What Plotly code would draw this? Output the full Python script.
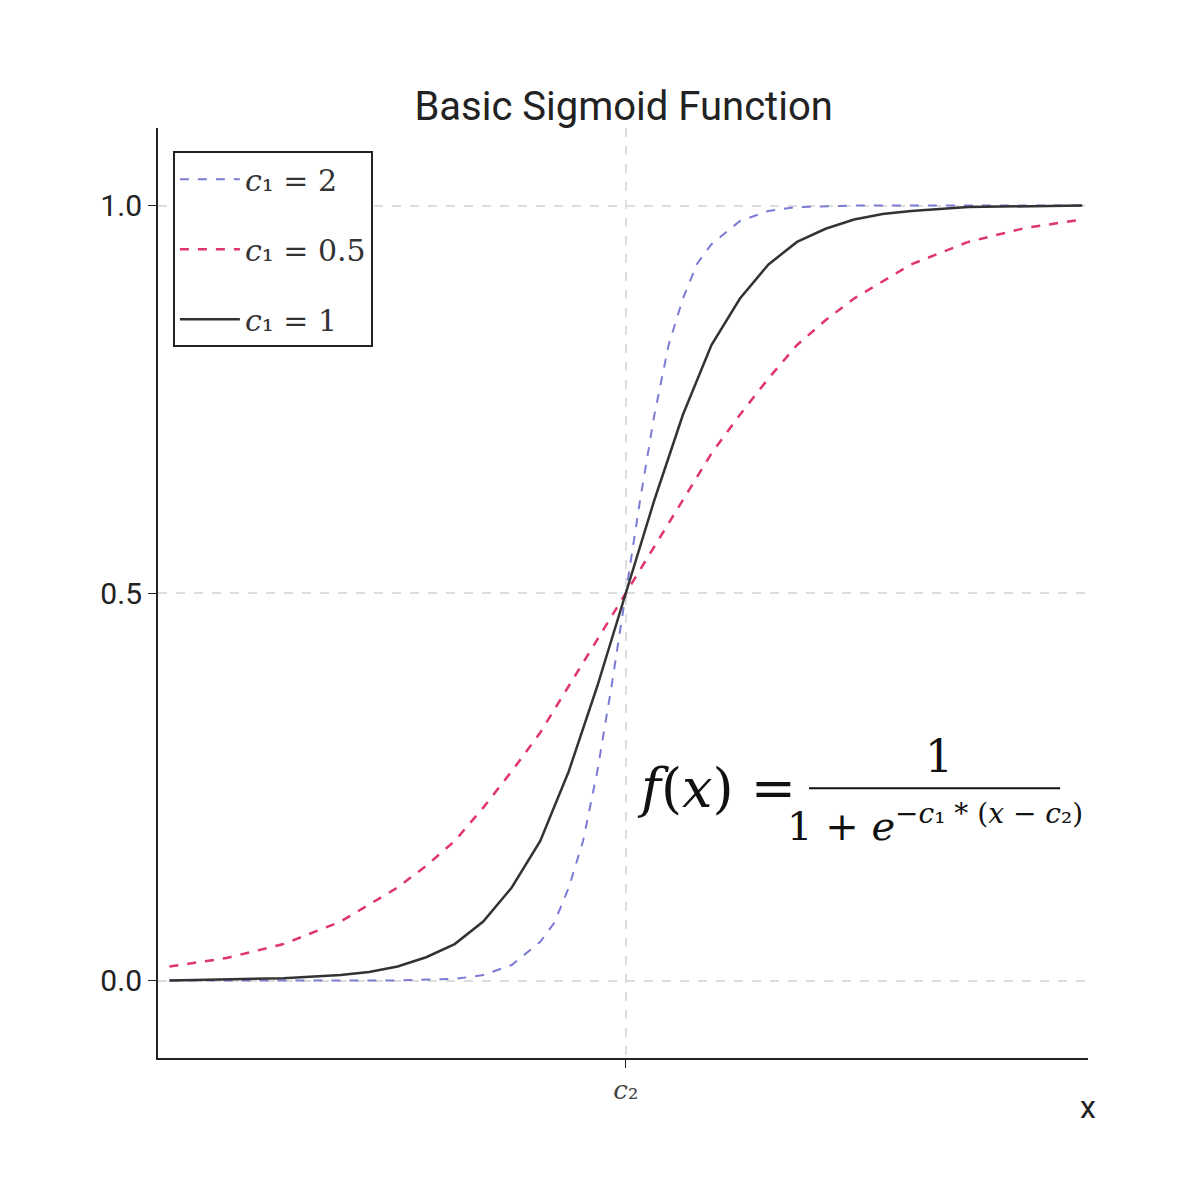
import plotly.graph_objects as go

# values (c2 placed at x = 0)
x_fast = [-8, -4, -3, -2.5, -2, -1.5, -1.25, -1, -0.75, -0.5, -0.25, 0,
          0.25, 0.5, 0.75, 1, 1.25, 1.5, 2, 2.5, 3, 4, 8]
y_fast = [0, 0, 0.002, 0.007, 0.02, 0.05, 0.075, 0.12, 0.18, 0.27, 0.38, 0.5,
          0.62, 0.73, 0.82, 0.88, 0.925, 0.95, 0.98, 0.993, 0.998, 1, 1]

x_mid = [-8, -6, -5, -4.5, -4, -3.5, -3, -2.5, -2, -1.5, -1, -0.5, 0,
         0.5, 1, 1.5, 2, 2.5, 3, 3.5, 4, 4.5, 5, 6, 8]
y_mid = [0, 0.003, 0.007, 0.011, 0.018, 0.03, 0.047, 0.076, 0.12, 0.18, 0.27, 0.38, 0.5,
         0.62, 0.73, 0.82, 0.88, 0.924, 0.953, 0.97, 0.982, 0.989, 0.993, 0.998, 1]

x_slow = [-8, -7, -6, -5, -4, -3.5, -3, -2.5, -2, -1.5, -1, -0.5, 0,
          0.5, 1, 1.5, 2, 2.5, 3, 3.5, 4, 5, 6, 7, 8]
y_slow = [0.018, 0.029, 0.047, 0.076, 0.12, 0.148, 0.18, 0.223, 0.27, 0.32, 0.38, 0.44, 0.5,
          0.56, 0.62, 0.68, 0.73, 0.777, 0.82, 0.852, 0.88, 0.924, 0.953, 0.971, 0.982]

y_ticks = [0, 0.5, 1.0]
y_tick_text = ["0.0", "0.5", "1.0"]

serif = "DejaVu Serif"
sans = "Liberation Sans Narrow, Roboto, sans-serif"

fig = go.Figure()
fig.add_trace(go.Scatter(x=x_fast, y=y_fast, mode="lines", name="<i>c</i>₁ = 2", legendgroup="a",
                         line=dict(color="#7b7bd6", width=2, dash="dash")))
fig.add_trace(go.Scatter(x=x_slow, y=y_slow, mode="lines", name="<i>c</i>₁ = 0.5", legendgroup="b",
                         line=dict(color="#e0356b", width=2.5, dash="dash")))
fig.add_trace(go.Scatter(x=x_mid, y=y_mid, mode="lines", name="<i>c</i>₁ = 1", legendgroup="c",
                         line=dict(color="#333333", width=2.5)))

fig.update_layout(
    width=1200, height=1200,
    margin=dict(l=150, r=120, t=120, b=150),
    plot_bgcolor="white", paper_bgcolor="white",
    title=dict(text="Basic Sigmoid Function", x=0.513, xanchor="center", y=0.93,
               font=dict(family=sans, size=40, color="#222")),
    legend=dict(x=0.016, y=0.975, xanchor="left", yanchor="top",
                bordercolor="#222", borderwidth=2, bgcolor="white",
                font=dict(family=serif, size=30, color="#333"),
                itemwidth=60, tracegroupgap=28),
    showlegend=True,
)
fig.update_xaxes(range=[-8.2, 8.1], showline=True, linecolor="#222", linewidth=2,
                 tickvals=[0], ticktext=["<i>c</i>₂"], ticks="outside", ticklen=8,
                 tickcolor="#222", tickfont=dict(family=serif, size=26, color="#444"),
                 showgrid=True, gridcolor="#dddddd", griddash="dash", gridwidth=2,
                 zeroline=False, automargin=False)
fig.update_yaxes(range=[-0.1, 1.1], showline=True, linecolor="#222", linewidth=2,
                 tickvals=y_ticks, ticktext=y_tick_text, ticks="outside", ticklen=8,
                 tickcolor="#222", tickfont=dict(family=sans, size=30, color="#222"),
                 showgrid=True, gridcolor="#dddddd", griddash="dash", gridwidth=2,
                 zeroline=False, automargin=False)

# axis label
fig.add_annotation(text="x", xref="paper", yref="paper", x=1.0, y=-0.075,
                   xanchor="center", showarrow=False,
                   font=dict(family=sans, size=32, color="#222"))

# formula
fig.add_annotation(text="<i>f</i>(<i>x</i>) =", xref="paper", yref="paper", x=0.6, y=0.29,
                   xanchor="center", yanchor="middle", showarrow=False,
                   font=dict(family=serif, size=54, color="#111"))
fig.add_annotation(text="1", xref="paper", yref="paper", x=0.84, y=0.295,
                   xanchor="center", yanchor="bottom", showarrow=False,
                   font=dict(family=serif, size=44, color="#111"))
fig.add_annotation(text="1 + <i>e</i><sup>−<i>c</i>₁ * (<i>x</i> − <i>c</i>₂)</sup>",
                   xref="paper", yref="paper", x=0.835, y=0.283,
                   xanchor="center", yanchor="top", showarrow=False,
                   font=dict(family=serif, size=40, color="#111"))
fig.add_shape(type="line", xref="paper", yref="paper", x0=0.70, x1=0.97, y0=0.29, y1=0.29,
              line=dict(color="#111", width=2))

fig.write_html("out.html")
